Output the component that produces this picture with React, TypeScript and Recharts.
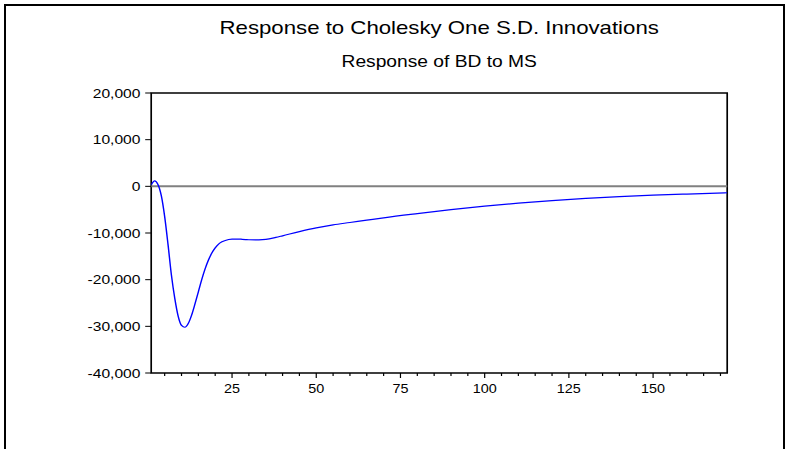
import React from "react";
import {
  LineChart,
  Line,
  XAxis,
  YAxis,
  ReferenceLine,
  ReferenceArea,
} from "recharts";

// impulse response of BD to a one S.D. shock in MS
const periods = [
  1, 2, 3, 4, 5, 6, 7, 8, 9, 10, 11, 12, 13, 14, 15, 16, 17, 18, 19, 20, 21, 22,
  23, 24, 25, 26, 27, 28, 29, 30, 32, 34, 36, 38, 40, 45, 50, 55, 60, 65, 70, 80,
  90, 100, 110, 120, 130, 140, 150, 160, 172,
];
const bdResponse = [
  300, 1150, 400, -2000, -6500, -12500, -19000, -24000, -27800, -29800, -30200,
  -29400, -27600, -25200, -22600, -20000, -17700, -15800, -14300, -13200, -12400,
  -11900, -11600, -11400, -11300, -11300, -11300, -11350, -11400, -11450, -11480,
  -11420, -11250, -10950, -10600, -9700, -8900, -8250, -7750, -7250, -6750,
  -5850, -5000, -4250, -3600, -3050, -2600, -2200, -1900, -1650, -1380,
];
const yTicks = [-40000, -30000, -20000, -10000, 0, 10000, 20000];
const xTicks = [
  5, 10, 15, 20, 25, 30, 35, 40, 45, 50, 55, 60, 65, 70, 75, 80, 85, 90, 95, 100,
  105, 110, 115, 120, 125, 130, 135, 140, 145, 150, 155, 160, 165, 170,
];
const xLabelTicks = [25, 50, 75, 100, 125, 150];

const title = "Response to Cholesky One S.D. Innovations";
const subtitle = "Response of BD to MS";

const data = periods.map((p, i) => ({ period: p, value: bdResponse[i] }));

const FONT = "'Liberation Sans', Arial, sans-serif";
// the source picture is stretched sideways, so the chart is drawn narrow and scaled
const STRETCH = 1.2;
const W = 654;
const H = 449;

const XTick = (props: any) => {
  const { x, y, payload } = props;
  const v = payload.value;
  const major = xLabelTicks.includes(v);
  return (
    <g>
      <line x1={x} x2={x} y1={y} y2={y + (major ? 5 : 3)} stroke="#000" strokeWidth={1} />
      {major && (
        <text x={x} y={y + 20.5} textAnchor="middle" fontSize={12} fill="#000" fontFamily={FONT}>
          {v}
        </text>
      )}
    </g>
  );
};

const App: React.FC = () => {
  return (
    <div
      style={{
        position: "absolute",
        left: 0,
        top: 0,
        width: 785,
        height: 449,
        overflow: "hidden",
        background: "#fff",
      }}
    >
      <div
        style={{
          position: "absolute",
          left: 4,
          top: 4,
          width: 777,
          height: 480,
          borderLeft: "2px solid #000",
          borderTop: "2px solid #000",
          borderRight: "2px solid #000",
        }}
      />
      <div
        style={{
          position: "absolute",
          left: 0,
          top: 0,
          width: W,
          height: H,
          transform: `scaleX(${STRETCH})`,
          transformOrigin: "0 0",
        }}
      >
        <div
          style={{
            position: "absolute",
            left: 116,
            width: 500,
            top: 18.8,
            textAlign: "center",
            fontFamily: FONT,
            fontSize: 18.5,
            lineHeight: "18.5px",
            color: "#000",
          }}
        >
          {title}
        </div>
        <div
          style={{
            position: "absolute",
            left: 116,
            width: 500,
            top: 54,
            textAlign: "center",
            fontFamily: FONT,
            fontSize: 16,
            lineHeight: "16px",
            color: "#000",
          }}
        >
          {subtitle}
        </div>
        <LineChart
          width={W}
          height={H}
          data={data}
          margin={{ top: 93, right: 48, left: 0, bottom: 46 }}
        >
          <XAxis
            dataKey="period"
            type="number"
            domain={[1, 172]}
            ticks={xTicks}
            interval={0}
            height={30}
            axisLine={false}
            tickLine={false}
            tickSize={0}
            tickMargin={0}
            tick={<XTick />}
            allowDataOverflow
          />
          <YAxis
            type="number"
            domain={[-40000, 20000]}
            ticks={yTicks}
            interval={0}
            width={126}
            axisLine={false}
            tickSize={5}
            tickMargin={4}
            tickLine={{ stroke: "#000", strokeWidth: 1 }}
            tick={{ fill: "#000", fontSize: 13, fontFamily: FONT }}
            tickFormatter={(v: number) => v.toLocaleString("en-US")}
            allowDataOverflow
          />
          <ReferenceArea
            x1={1}
            x2={172}
            y1={-40000}
            y2={20000}
            fill="none"
            fillOpacity={0}
            stroke="#000"
            strokeWidth={1.4}
          />
          <ReferenceLine y={0} stroke="#808080" strokeWidth={2} />
          <Line
            type="monotone"
            dataKey="value"
            stroke="#0000FF"
            strokeWidth={1.2}
            dot={false}
            activeDot={false}
            isAnimationActive={false}
          />
        </LineChart>
      </div>
    </div>
  );
};

export default App;
